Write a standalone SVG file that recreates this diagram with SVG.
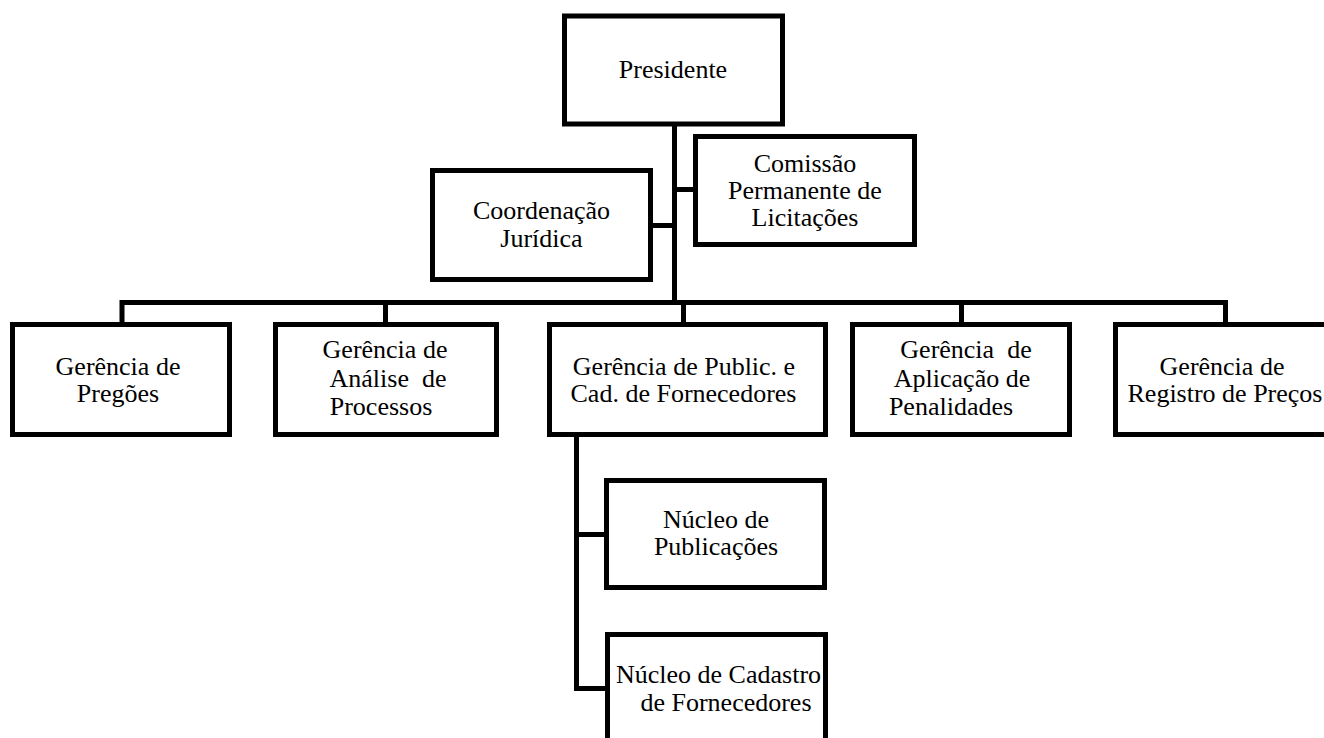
<svg xmlns="http://www.w3.org/2000/svg" width="1324" height="738" viewBox="0 0 1324 738">
<style>
.box{fill:#fff;stroke:#000;stroke-width:5}
.lbl{font-family:'Liberation Serif','Times New Roman','DejaVu Serif',serif;font-size:26px;fill:#000;text-anchor:middle}
.conn{fill:none;stroke:#000;stroke-width:5;stroke-linejoin:miter;stroke-linecap:butt}
</style>
<defs>
<clipPath id="clipN2"><rect x="610" y="637" width="213" height="110"/></clipPath>
<clipPath id="clipCom"><rect x="698" y="139" width="214" height="103"/></clipPath>
</defs>
<rect width="1324" height="738" fill="#fff"/>
<g id="connectors">
<path class="conn" d="M674.5 126 V302.5"/>
<path class="conn" d="M674.5 189.5 H696"/>
<path class="conn" d="M651 225.5 H674.5"/>
<path class="conn" d="M122 325 V302.5 H1225.5 V325"/>
<path class="conn" d="M385.5 302.5 V325"/>
<path class="conn" d="M683.5 302.5 V325"/>
<path class="conn" d="M961.5 302.5 V325"/>
<path class="conn" d="M576.5 436 V688.5 H608"/>
<path class="conn" d="M576.5 534.5 H607"/>
</g>
<g font-family="Liberation Serif, serif">
<g id="presidente">
<rect class="box" x="564.5" y="16" width="218" height="108"/>
<text class="lbl" x="673" y="78">Presidente</text>
</g>
<g id="coordenacao">
<rect class="box" x="432.5" y="170.5" width="218" height="109"/>
<text class="lbl" x="541.5" y="219">Coordenação</text>
<text class="lbl" x="541.5" y="247">Jurídica</text>
</g>
<g id="comissao">
<rect class="box" x="695.5" y="136.5" width="219" height="108"/>
<g clip-path="url(#clipCom)">
<text class="lbl" x="805" y="172">Comissão</text>
<text class="lbl" x="805" y="199">Permanente de</text>
<text class="lbl" x="805" y="226">Licitações</text>
</g>
</g>
<g id="ger-pregoes">
<rect class="box" x="12.5" y="324.5" width="217" height="110"/>
<text class="lbl" x="118" y="375">Gerência de</text>
<text class="lbl" x="118" y="402">Pregões</text>
</g>
<g id="ger-analise">
<rect class="box" x="275.5" y="324.5" width="221" height="110"/>
<text class="lbl" x="385" y="358">Gerência de</text>
<text class="lbl" x="388" y="387" xml:space="preserve">Análise  de</text>
<text class="lbl" x="381" y="415">Processos</text>
</g>
<g id="ger-public">
<rect class="box" x="549.5" y="324.5" width="276" height="110"/>
<text class="lbl" x="684" y="375">Gerência de Public. e</text>
<text class="lbl" x="683.5" y="402">Cad. de Fornecedores</text>
</g>
<g id="ger-penalidades">
<rect class="box" x="852.5" y="324.5" width="217" height="110"/>
<text class="lbl" x="966" y="358" xml:space="preserve">Gerência  de</text>
<text class="lbl" x="962" y="387">Aplicação de</text>
<text class="lbl" x="951" y="415">Penalidades</text>
</g>
<g id="ger-registro">
<rect class="box" x="1115.5" y="324.5" width="230" height="110"/>
<text class="lbl" x="1222" y="375">Gerência de</text>
<text class="lbl" x="1225" y="402">Registro de Preços</text>
</g>
<g id="nucleo-publicacoes">
<rect class="box" x="606.5" y="480.5" width="218" height="107"/>
<text class="lbl" x="716" y="528">Núcleo de</text>
<text class="lbl" x="716" y="555">Publicações</text>
</g>
<g id="nucleo-cadastro">
<rect class="box" x="607.5" y="634.5" width="218" height="140"/>
<g clip-path="url(#clipN2)">
<text class="lbl" x="616" y="683" style="text-anchor:start">Núcleo de Cadastro</text>
<text class="lbl" x="726" y="711">de Fornecedores</text>
</g>
</g>
</g>
</svg>
